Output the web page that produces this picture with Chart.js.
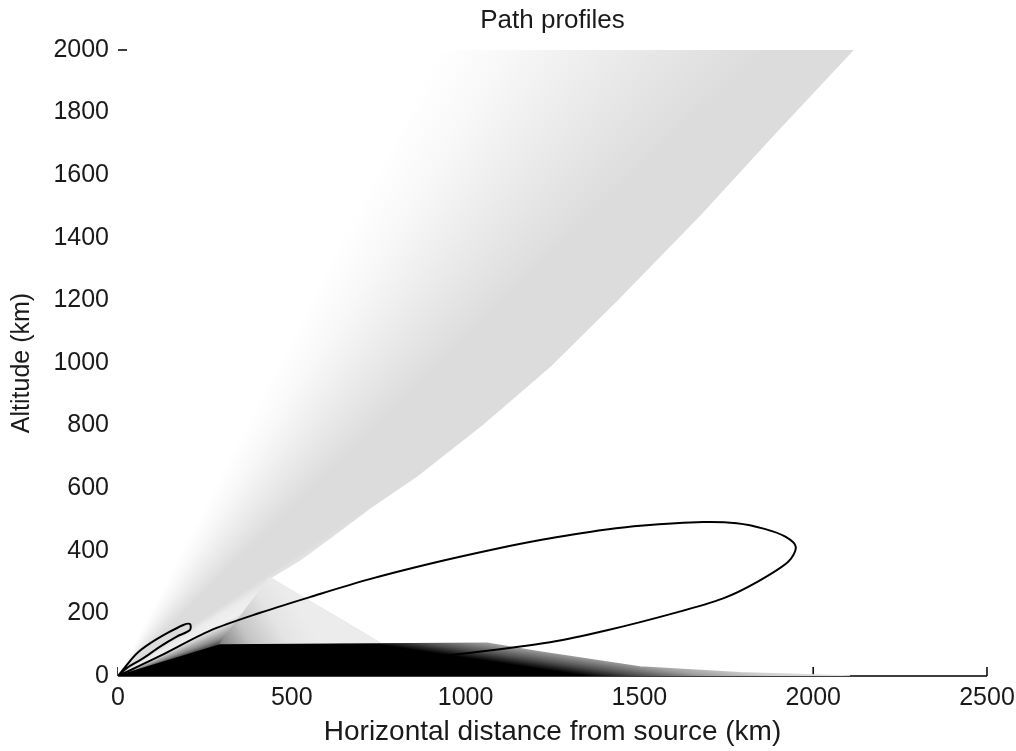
<!DOCTYPE html>
<html>
<head>
<meta charset="utf-8">
<title>Path profiles</title>
<script src="https://cdn.jsdelivr.net/npm/chart.js@4.4.1/dist/chart.umd.min.js"></script>
<style>
  html, body { margin: 0; padding: 0; background: #fff; }
</style>
</head>
<body>
<canvas id="myChart" width="1016" height="751"></canvas>
<script>
// axis ticks (km)
var xTicks = [0, 500, 1000, 1500, 2000, 2500];
var yTicks = [0, 200, 400, 600, 800, 1000, 1200, 1400, 1600, 1800, 2000];

// outlines, [distance km, altitude km]
var escapeFan = [[0, 0], [0, 1950], [70, 2000], [2114, 2000], [1893, 1738], [1674, 1473],
  [1436, 1201], [1243, 990], [1050, 805], [860, 639], [725, 537], [610, 441], [524, 371],
  [437, 313], [745, 109], [293, 99], [0, 0]];
var reflectedRays = [[437, 313], [745, 109], [293, 99], [437, 313]];
var trappedRays = [[0, 0], [293, 99], [1062, 105], [1214, 77], [1502, 29], [1789, 10],
  [2106, 0], [0, 0]];
var smallLoop = [[0, 0], [25, 35], [54, 72], [92, 104], [140, 136], [188, 163], [207, 166],
  [207, 147], [169, 126], [121, 94], [73, 57], [25, 25], [0, 0]];
var bigLoop = [[0, 0], [121, 64], [265, 145], [409, 202], [552, 252], [716, 307], [906, 361],
  [1099, 409], [1223, 436], [1309, 452], [1400, 467], [1502, 480], [1683, 492], [1780, 488],
  [1860, 470], [1920, 445], [1950, 412], [1928, 365], [1838, 300], [1741, 248], [1597, 200],
  [1407, 146], [1243, 108], [1004, 73], [762, 45], [552, 24], [400, 10], [314, 0], [0, 0]];

function pts(a) {
  return a.map(function (p) { return { x: p[0], y: p[1] }; });
}

// shade of the fan by launch angle (degrees above horizon)
var fanStops = [[90, '#ffffff'], [63, '#ffffff'], [58, '#f8f8f8'], [53, '#eeeeee'],
  [48, '#e4e4e4'], [44, '#dcdcdc'], [34, '#dcdcdc'], [31, '#ececec'],
  [27, '#f0f0f0'], [24, '#c8c8c8'], [20, '#8c8c8c'], [17, '#404040'], [13, '#000000'],
  [0, '#000000']];

function fanShade(c) {
  var chart = c.chart;
  if (!chart.chartArea) return '#e0e0e0';
  var x0 = chart.scales.x.getPixelForValue(0);
  var y0 = chart.scales.y.getPixelForValue(0);
  var g = chart.ctx.createConicGradient(-Math.PI, x0, y0);
  g.addColorStop(0, '#ffffff');
  fanStops.forEach(function (s) { g.addColorStop(0.5 - s[0] / 360, s[1]); });
  g.addColorStop(1, '#000000');
  return g;
}

function reflectShade(c) {
  var chart = c.chart;
  if (!chart.chartArea) return '#d0d0d0';
  var xs = chart.scales.x, ys = chart.scales.y;
  var g = chart.ctx.createLinearGradient(xs.getPixelForValue(279), ys.getPixelForValue(99),
    xs.getPixelForValue(500), ys.getPixelForValue(250));
  g.addColorStop(0, '#777777');
  g.addColorStop(0.35, '#c4c4c4');
  g.addColorStop(0.7, '#e4e4e4');
  g.addColorStop(1, '#ececec');
  return g;
}

function trappedShade(c) {
  var chart = c.chart;
  if (!chart.chartArea) return '#404040';
  var xs = chart.scales.x, ys = chart.scales.y;
  var ax = xs.getPixelForValue(1272), ay = ys.getPixelForValue(13);
  // normal to the shading contours, which dip slowly to the right
  var g = chart.ctx.createLinearGradient(ax, ay, ax + 45 * 0.148, ay - 45 * 0.988);
  g.addColorStop(0, '#000000');
  g.addColorStop(0.18, '#505050');
  g.addColorStop(0.4, '#a0a0a0');
  g.addColorStop(0.62, '#d0d0d0');
  g.addColorStop(1, '#ececec');
  return g;
}

// MATLAB style axes: inward ticks drawn under the rays
var axisMarks = {
  id: 'axisMarks',
  beforeDatasetsDraw: function (chart) {
    var ctx = chart.ctx, xs = chart.scales.x, ys = chart.scales.y;
    var y0 = ys.getPixelForValue(0), x0 = xs.getPixelForValue(0);
    ctx.save();
    ctx.strokeStyle = '#000';
    ctx.lineWidth = 1.5;
    ctx.beginPath();
    ctx.moveTo(xs.left, y0);
    ctx.lineTo(xs.right, y0);
    xTicks.forEach(function (v) {
      var p = xs.getPixelForValue(v);
      ctx.moveTo(p, y0);
      ctx.lineTo(p, y0 - 9);
    });
    yTicks.forEach(function (v) {
      var p = ys.getPixelForValue(v);
      ctx.moveTo(x0, p);
      ctx.lineTo(x0 + 9, p);
    });
    ctx.stroke();
    ctx.restore();
  }
};

function plain(v) { return String(v); }

Chart.defaults.font.family = '"Liberation Sans", Arial, sans-serif';
Chart.defaults.font.size = 25;
Chart.defaults.color = '#1a1a1a';

var ctx = document.getElementById('myChart').getContext('2d');
var myChart = new Chart(ctx, {
  type: 'line',
  data: {
    datasets: [
      { data: pts(smallLoop), borderColor: '#000', borderWidth: 2, tension: 0.3, fill: false, order: 0 },
      { data: pts(bigLoop), borderColor: '#000', borderWidth: 2, tension: 0.3, fill: false, order: 1 },
      { data: pts(trappedRays), borderColor: trappedShade, backgroundColor: trappedShade,
        borderWidth: 1.5, tension: 0, fill: 'shape', order: 2 },
      { data: pts(reflectedRays), borderColor: reflectShade, backgroundColor: reflectShade,
        borderWidth: 2.5, tension: 0, fill: 'shape', order: 3 },
      { data: pts(escapeFan), borderColor: fanShade, backgroundColor: fanShade,
        borderWidth: 1.5, tension: 0, fill: 'shape', order: 4 }
    ]
  },
  options: {
    responsive: false,
    animation: false,
    events: [],
    layout: { padding: { left: 0, right: 29, top: 0, bottom: 0 } },
    elements: { point: { radius: 0 } },
    plugins: {
      legend: { display: false },
      tooltip: { enabled: false },
      title: { display: false }
    },
    scales: {
      xTop: {
        type: 'linear',
        position: 'top',
        min: 0,
        max: 2500,
        afterFit: function (s) { s.height = 50; s.paddingLeft = 0; s.paddingRight = 0; },
        ticks: { display: false },
        grid: { display: false, drawTicks: false },
        border: { display: false },
        title: { display: true, text: 'Path profiles', font: { size: 26 }, padding: { top: 5, bottom: 0 } }
      },
      x: {
        type: 'linear',
        position: 'bottom',
        min: 0,
        max: 2500,
        afterFit: function (s) { s.height = 75; s.paddingLeft = 0; s.paddingRight = 0; },
        afterBuildTicks: function (s) { s.ticks = xTicks.map(function (v) { return { value: v }; }); },
        grid: { display: false, drawTicks: false },
        border: { display: false },
        ticks: { padding: 7, maxRotation: 0, callback: plain },
        title: { display: true, text: 'Horizontal distance from source (km)', font: { size: 28 },
          padding: { top: 0, bottom: 2 } }
      },
      y: {
        type: 'linear',
        min: 0,
        max: 2000,
        afterFit: function (s) { s.width = 118; s.paddingTop = 0; s.paddingBottom = 0; },
        afterBuildTicks: function (s) { s.ticks = yTicks.map(function (v) { return { value: v }; }); },
        grid: { display: false, drawTicks: false },
        border: { display: false },
        ticks: { padding: 9, callback: plain },
        title: { display: true, text: 'Altitude (km)', padding: { top: 7, bottom: 0 } }
      }
    }
  },
  plugins: [axisMarks]
});
</script>
</body>
</html>
